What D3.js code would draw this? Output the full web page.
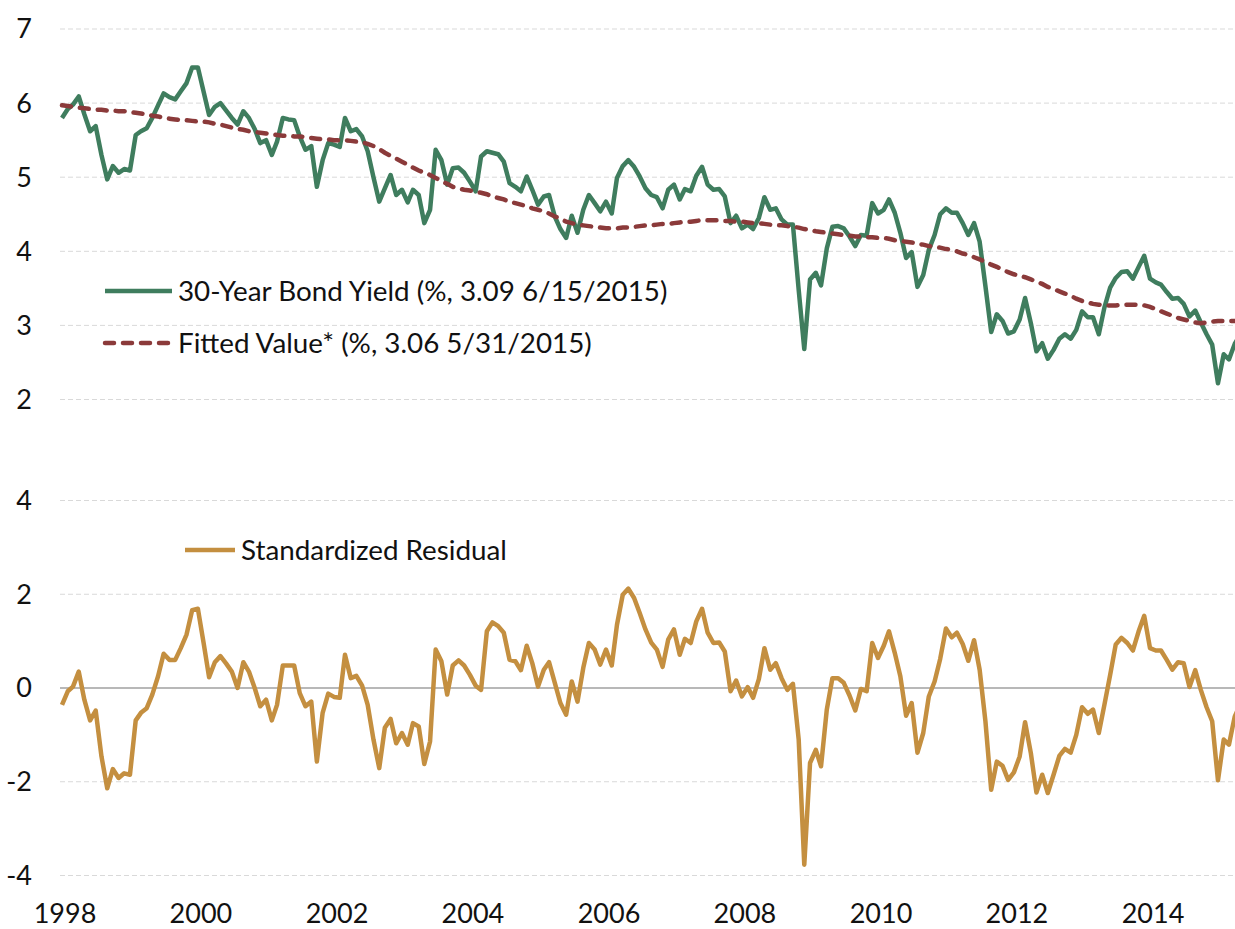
<!DOCTYPE html>
<meta charset="utf-8">
<title>30-Year Bond Yield vs Fitted Value</title>
<script src="https://cdn.jsdelivr.net/npm/d3@7"></script>
<style>
html, body {
    margin: 0;
    background: #fff;
}
svg {
    display: block;
    font-family: Lato, "Open Sans", sans-serif;
}
.grid {
    stroke: #d9d9d9;
    stroke-width: 1;
    stroke-dasharray: 5,3;
}
.tick-label {
    font-size: 27px;
    fill: #111;
}
.legend {
    font-size: 27.8px;
    fill: #111;
}
</style>
<body>
<script>
var width = 1235,
    height = 929;

// monthly series, first value is Jan 1998
var startMonth = new Date(1998, 0, 1);

var bondYield = [
    5.80,5.92,5.98,6.09,5.85,5.62,5.69,5.30,4.97,5.15,5.06,5.11,
    5.09,5.57,5.62,5.66,5.80,5.97,6.13,6.08,6.05,6.16,6.27,6.48,
    6.48,6.15,5.84,5.95,6.00,5.90,5.80,5.71,5.89,5.80,5.65,5.46,
    5.50,5.30,5.48,5.80,5.78,5.77,5.55,5.37,5.42,4.87,5.23,5.46,
    5.44,5.41,5.80,5.62,5.65,5.55,5.35,5.00,4.67,4.85,5.03,4.76,
    4.83,4.66,4.83,4.76,4.38,4.56,5.37,5.23,4.90,5.12,5.13,5.06,
    4.94,4.81,5.28,5.35,5.33,5.31,5.21,4.92,4.87,4.81,5.01,4.83,
    4.63,4.74,4.76,4.47,4.30,4.18,4.48,4.25,4.56,4.76,4.65,4.54,
    4.67,4.51,4.99,5.15,5.23,5.14,5.01,4.85,4.76,4.73,4.58,4.83,
    4.90,4.70,4.84,4.81,5.02,5.14,4.90,4.83,4.84,4.74,4.38,4.48,
    4.31,4.36,4.30,4.45,4.73,4.56,4.58,4.43,4.36,4.36,3.48,2.68,
    3.62,3.71,3.54,4.04,4.33,4.34,4.31,4.20,4.07,4.22,4.21,4.65,
    4.51,4.56,4.70,4.52,4.25,3.91,3.99,3.52,3.68,4.02,4.22,4.50,
    4.58,4.52,4.52,4.38,4.22,4.38,4.13,3.53,2.91,3.15,3.06,2.89,
    2.92,3.08,3.37,3.03,2.65,2.76,2.55,2.67,2.82,2.88,2.82,2.94,
    3.19,3.11,3.11,2.88,3.24,3.51,3.64,3.72,3.73,3.63,3.79,3.94,
    3.63,3.58,3.55,3.45,3.36,3.37,3.29,3.12,3.20,3.04,2.88,2.74,
    2.22,2.61,2.54,2.75,2.88
];

var fittedValue = [
    5.97,5.96,5.95,5.94,5.93,5.92,5.91,5.91,5.90,5.90,5.89,5.89,
    5.88,5.87,5.86,5.85,5.83,5.82,5.80,5.79,5.78,5.77,5.77,5.76,
    5.75,5.75,5.74,5.72,5.71,5.69,5.67,5.65,5.64,5.62,5.61,5.60,
    5.59,5.58,5.57,5.56,5.56,5.55,5.55,5.54,5.53,5.52,5.51,5.51,
    5.50,5.50,5.50,5.49,5.48,5.47,5.45,5.42,5.38,5.33,5.29,5.25,
    5.21,5.17,5.13,5.09,5.06,5.03,4.99,4.95,4.91,4.87,4.85,4.83,
    4.82,4.80,4.79,4.77,4.74,4.72,4.70,4.67,4.65,4.63,4.61,4.58,
    4.56,4.54,4.51,4.47,4.44,4.40,4.38,4.36,4.35,4.34,4.33,4.32,
    4.31,4.31,4.31,4.32,4.32,4.33,4.34,4.35,4.35,4.36,4.37,4.37,
    4.38,4.39,4.40,4.40,4.41,4.42,4.42,4.42,4.42,4.41,4.41,4.40,
    4.40,4.39,4.38,4.38,4.37,4.36,4.35,4.35,4.34,4.33,4.32,4.30,
    4.29,4.27,4.26,4.25,4.24,4.23,4.22,4.21,4.20,4.20,4.19,4.19,
    4.18,4.18,4.17,4.15,4.14,4.13,4.12,4.10,4.09,4.07,4.06,4.05,
    4.03,4.02,4.00,3.97,3.95,3.92,3.89,3.86,3.82,3.79,3.75,3.72,
    3.69,3.67,3.65,3.62,3.59,3.56,3.52,3.49,3.46,3.43,3.40,3.36,
    3.33,3.31,3.29,3.28,3.27,3.27,3.27,3.28,3.28,3.28,3.28,3.27,
    3.25,3.22,3.19,3.16,3.13,3.10,3.08,3.06,3.04,3.03,3.04,3.05,
    3.06,3.06,3.06,3.06,3.06
];

var residual = [
    -0.36,-0.07,0.03,0.35,-0.25,-0.69,-0.48,-1.46,-2.14,-1.73,-1.92,-1.82,
    -1.85,-0.69,-0.53,-0.43,-0.14,0.25,0.73,0.60,0.60,0.85,1.14,1.66,
    1.69,0.95,0.23,0.55,0.68,0.52,0.35,0.00,0.55,0.35,0.00,-0.39,
    -0.25,-0.69,-0.36,0.48,0.48,0.48,-0.11,-0.39,-0.29,-1.57,-0.53,-0.12,
    -0.19,-0.21,0.71,0.21,0.26,0.05,-0.36,-1.10,-1.71,-0.85,-0.66,-1.18,
    -0.96,-1.21,-0.75,-0.82,-1.62,-1.14,0.82,0.57,-0.14,0.48,0.59,0.48,
    0.28,0.05,-0.04,1.21,1.40,1.32,1.18,0.60,0.57,0.38,0.90,0.53,
    0.03,0.39,0.55,0.11,-0.32,-0.57,0.14,-0.29,0.43,0.96,0.82,0.50,
    0.82,0.48,1.35,1.99,2.12,1.92,1.60,1.25,0.97,0.82,0.45,1.03,
    1.25,0.71,1.05,0.96,1.42,1.69,1.18,0.96,0.97,0.78,-0.07,0.16,
    -0.18,0.02,-0.21,0.19,0.85,0.39,0.53,0.21,-0.04,0.09,-1.10,-3.77,
    -1.60,-1.32,-1.67,-0.46,0.21,0.21,0.11,-0.16,-0.48,-0.02,-0.07,0.96,
    0.64,0.90,1.21,0.75,0.25,-0.59,-0.32,-1.38,-0.96,-0.18,0.14,0.62,
    1.27,1.08,1.18,0.94,0.58,1.02,0.39,-0.71,-2.17,-1.57,-1.66,-1.96,
    -1.80,-1.46,-0.73,-1.39,-2.23,-1.85,-2.24,-1.85,-1.45,-1.30,-1.38,-1.00,
    -0.41,-0.55,-0.46,-0.96,-0.36,0.28,0.93,1.07,0.96,0.80,1.21,1.54,
    0.85,0.80,0.80,0.60,0.39,0.55,0.53,0.02,0.38,-0.04,-0.41,-0.71,
    -1.97,-1.10,-1.21,-0.61,-0.35
];

var yearTicks = [1998, 2000, 2002, 2004, 2006, 2008, 2010, 2012, 2014],
    topTicks = [2, 3, 4, 5, 6, 7],
    bottomTicks = [-4, -2, 0, 2, 4];

var legendLabels = [
    "30-Year Bond Yield (%, 3.09 6/15/2015)",
    "Fitted Value* (%, 3.06 5/31/2015)",
    "Standardized Residual"
];

var green = "#3f7d5e",
    red = "#8b3a3a",
    gold = "#c48f40";

var months = bondYield.map(function(d, i) { return d3.timeMonth.offset(startMonth, i); });

var x = d3.scaleTime()
    .domain([new Date(1998, 0, 1), new Date(2014, 0, 1)])
    .range([62, 1150]);

var yTop = d3.scaleLinear().domain([2, 7]).range([399.5, 29]);
var yBottom = d3.scaleLinear().domain([-4, 4]).range([875.5, 500.5]);

var svg = d3.select("body").append("svg")
    .attr("width", width)
    .attr("height", height);

svg.append("defs").append("clipPath")
    .attr("id", "plot")
  .append("rect")
    .attr("x", 0).attr("y", 0)
    .attr("width", width).attr("height", height);

// gridlines
svg.selectAll(".grid-top")
    .data(topTicks)
    .enter().append("line")
    .attr("class", "grid")
    .attr("x1", 60).attr("x2", width)
    .attr("y1", yTop).attr("y2", yTop);

svg.selectAll(".grid-bottom")
    .data(bottomTicks.filter(function(d) { return d !== 0; }))
    .enter().append("line")
    .attr("class", "grid")
    .attr("x1", 60).attr("x2", width)
    .attr("y1", yBottom).attr("y2", yBottom);

svg.append("line")
    .attr("x1", 60).attr("x2", width)
    .attr("y1", yBottom(0)).attr("y2", yBottom(0))
    .attr("stroke", "#a0a0a0")
    .attr("stroke-width", 1.5);

// tick labels
svg.selectAll(".ytop")
    .data(topTicks)
    .enter().append("text")
    .attr("class", "tick-label")
    .attr("x", 32)
    .attr("y", yTop)
    .attr("dy", "0.35em")
    .attr("text-anchor", "end")
    .text(function(d) { return d; });

svg.selectAll(".ybottom")
    .data(bottomTicks)
    .enter().append("text")
    .attr("class", "tick-label")
    .attr("x", 32)
    .attr("y", yBottom)
    .attr("dy", "0.35em")
    .attr("text-anchor", "end")
    .text(function(d) { return d; });

// year labels sit a touch right of the January point, as in Excel
svg.selectAll(".xlabel")
    .data(yearTicks)
    .enter().append("text")
    .attr("class", "tick-label")
    .attr("x", function(d) { return x(new Date(d, 0, 1)) + 3; })
    .attr("y", 914)
    .attr("dy", "0.35em")
    .attr("text-anchor", "middle")
    .text(function(d) { return d; });

// series
function lineFor(y) {
    return d3.line()
        .x(function(d, i) { return x(months[i]); })
        .y(function(d) { return y(d); });
}

var plot = svg.append("g").attr("clip-path", "url(#plot)");

plot.append("path")
    .datum(bondYield)
    .attr("fill", "none")
    .attr("stroke", green)
    .attr("stroke-width", 4.5)
    .attr("stroke-linejoin", "round")
    .attr("d", lineFor(yTop));

plot.append("path")
    .datum(fittedValue)
    .attr("fill", "none")
    .attr("stroke", red)
    .attr("stroke-width", 4.5)
    .attr("stroke-linecap", "round")
    .attr("stroke-dasharray", "9,9")
    .attr("d", lineFor(yTop));

plot.append("path")
    .datum(residual)
    .attr("fill", "none")
    .attr("stroke", gold)
    .attr("stroke-width", 4.5)
    .attr("stroke-linejoin", "round")
    .attr("d", lineFor(yBottom));

// legends
var legends = [
    { x: 105, y: 291, len: 67, color: green, dash: null, label: legendLabels[0] },
    { x: 105, y: 343, len: 67, color: red, dash: "9,9", label: legendLabels[1] },
    { x: 185, y: 550, len: 50, color: gold, dash: null, label: legendLabels[2] }
];

var lg = svg.selectAll(".lg")
    .data(legends)
    .enter().append("g");

lg.append("line")
    .attr("x1", function(d) { return d.x; })
    .attr("x2", function(d) { return d.x + d.len; })
    .attr("y1", function(d) { return d.y; })
    .attr("y2", function(d) { return d.y; })
    .attr("stroke", function(d) { return d.color; })
    .attr("stroke-width", 4.5)
    .attr("stroke-linecap", function(d) { return d.dash ? "round" : "butt"; })
    .attr("stroke-dasharray", function(d) { return d.dash; });

lg.append("text")
    .attr("class", "legend")
    .attr("x", function(d) { return d.x + d.len + 6; })
    .attr("y", function(d) { return d.y; })
    .attr("dy", "0.35em")
    .text(function(d) { return d.label; });
</script>
